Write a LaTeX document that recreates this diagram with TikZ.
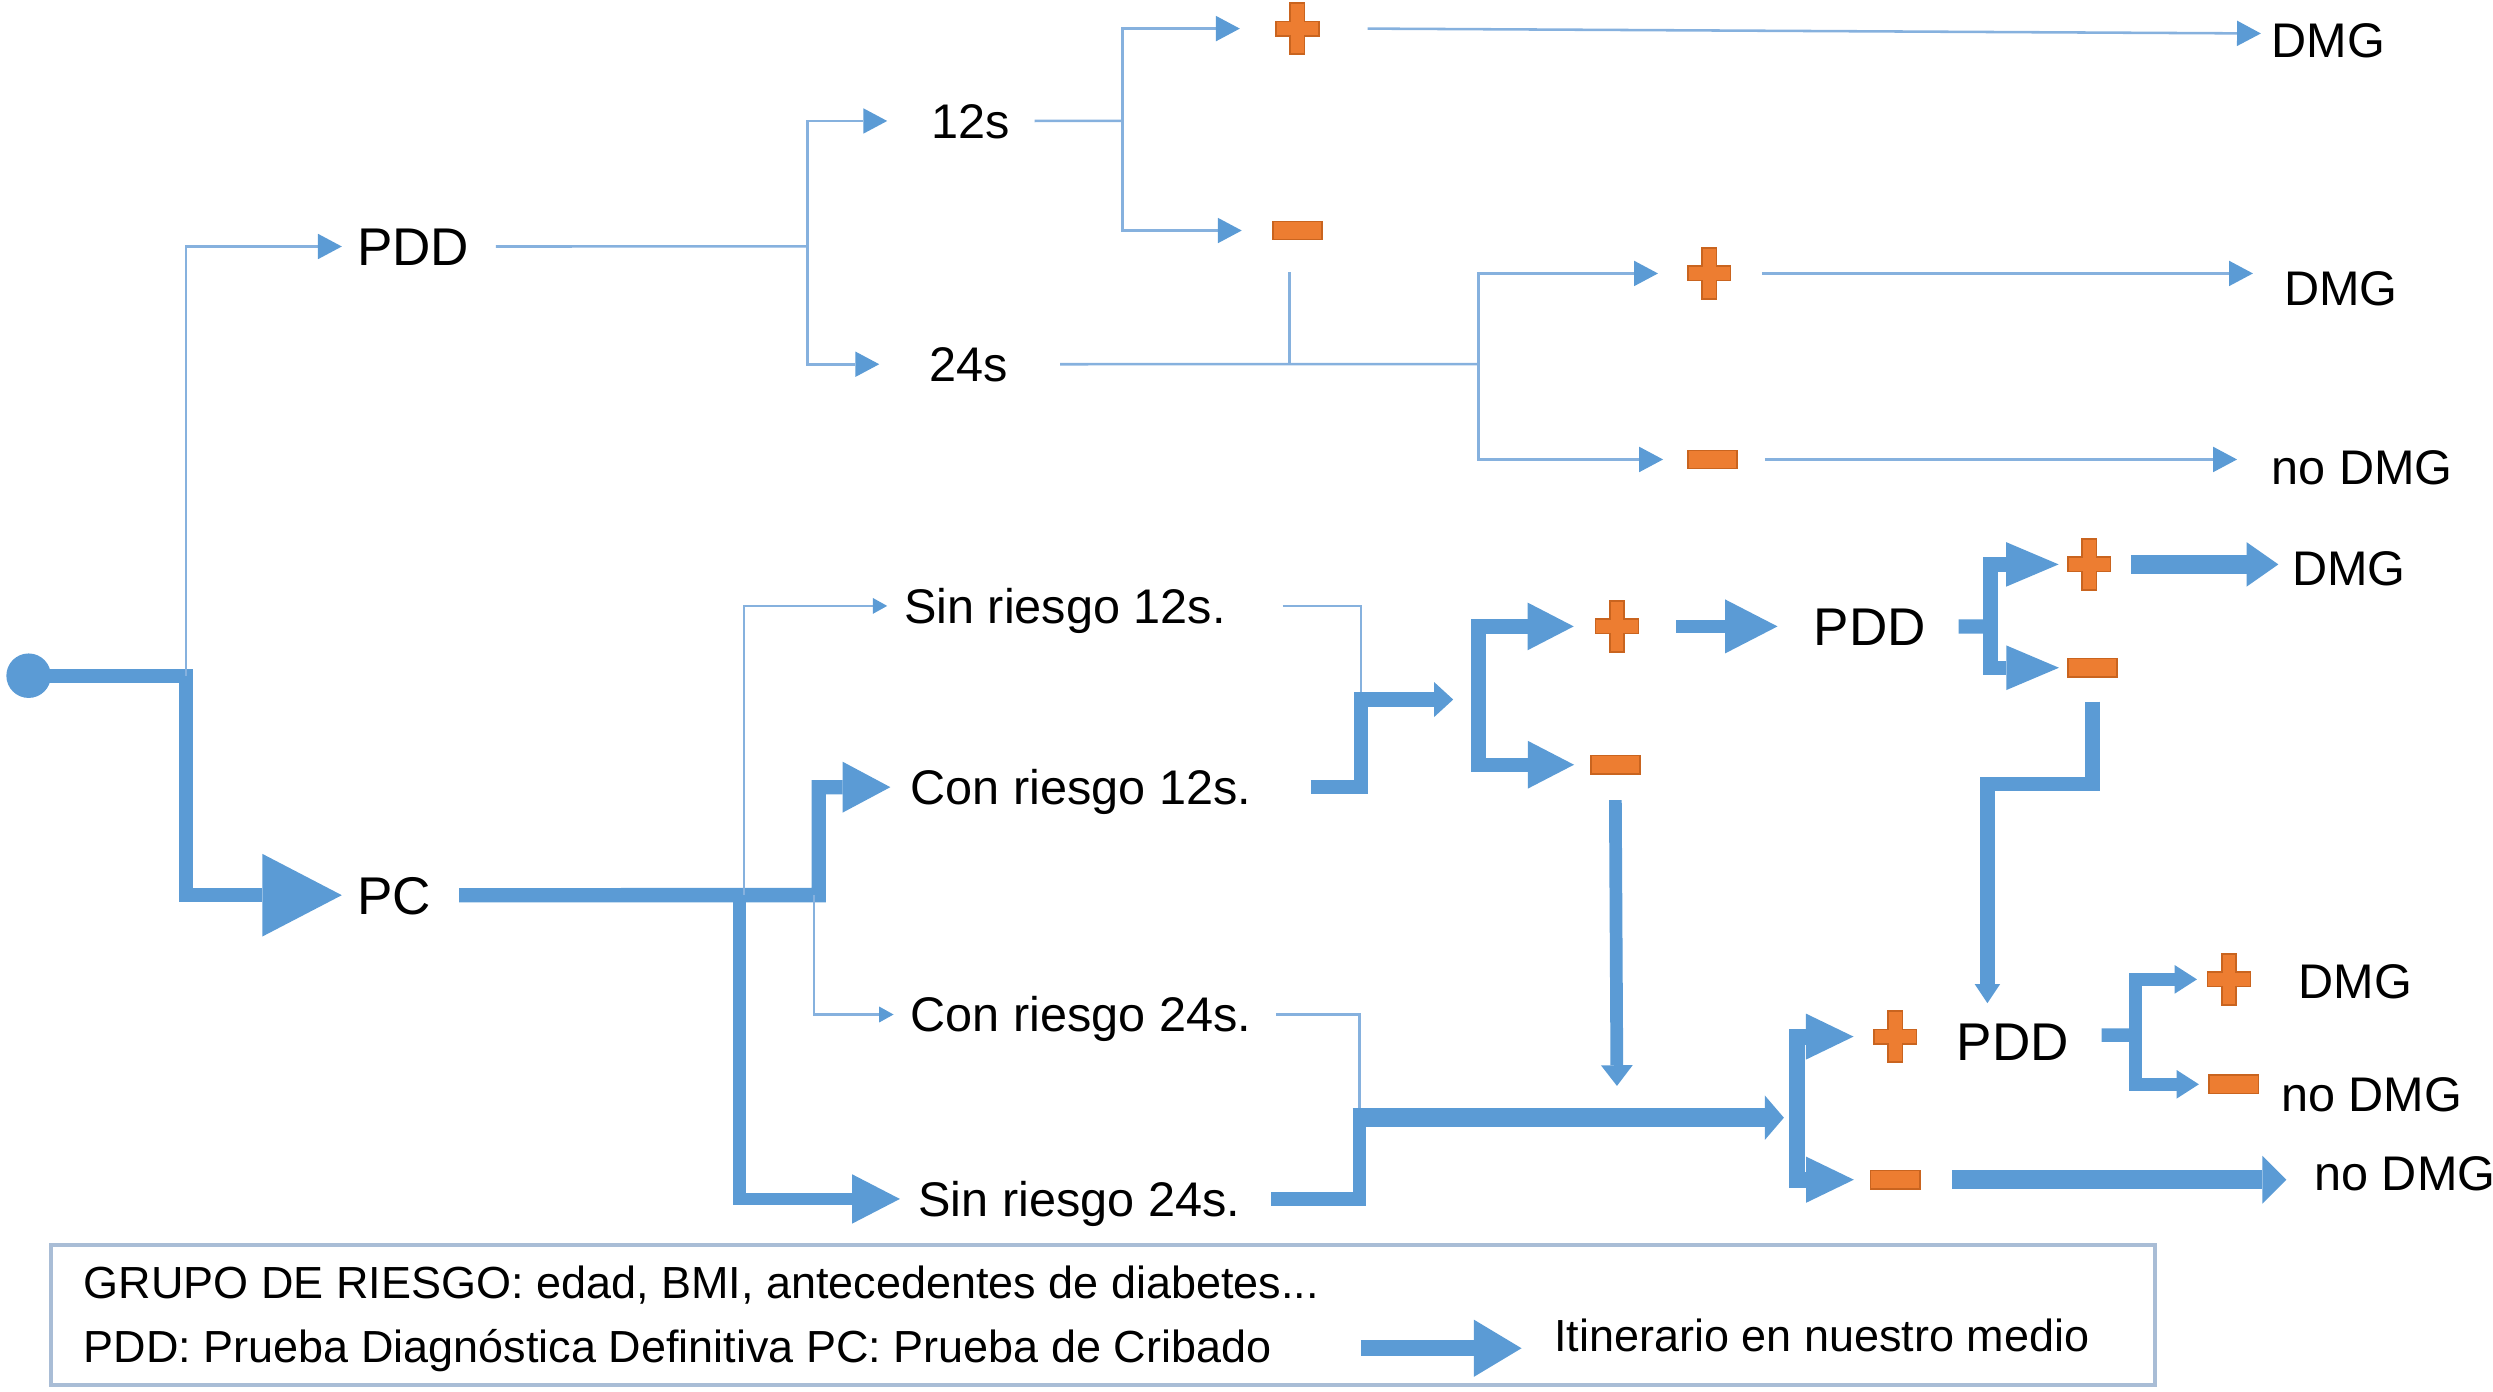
\documentclass[tikz,border=0pt]{standalone}
\usepackage{fontspec}
\setmainfont{Liberation Sans}
\usetikzlibrary{arrows.meta}
\definecolor{bl}{HTML}{5B9BD5}
\definecolor{lb}{HTML}{86B1DE}
\definecolor{og}{HTML}{ED7D31}
\definecolor{dog}{HTML}{C9641F}
\definecolor{bx}{HTML}{A9BDD6}
\begin{document}
\begin{tikzpicture}[x=0.1mm,y=-0.1mm,
  txt/.style={anchor=base west,inner sep=0pt,text height=6.2pt,text depth=0pt,font=\fontsize{8.7pt}{10pt}\selectfont},
  bigt/.style={anchor=base west,inner sep=0pt,text height=6.8pt,text depth=0pt,font=\fontsize{9.5pt}{11pt}\selectfont},
  legt/.style={anchor=base west,inner sep=0pt,text height=5.8pt,text depth=0pt,font=\fontsize{8.05pt}{10pt}\selectfont},
  sgnp/.style={minimum width=2.7mm,minimum height=3.2mm,inner sep=0pt},
  sgnm/.style={draw=dog,fill=og,line width=0.1mm,minimum width=3.1mm,minimum height=1.15mm,inner sep=0pt},
  dotst/.style={circle,fill=bl,minimum size=2.8mm,inner sep=0pt},
  thn/.style={draw=lb,line width=0.16mm},
  thna/.style={thn,-{Triangle[length=1.5mm,width=1.6mm,color=bl,line width=0pt]},shorten >=#1},
  tinya/.style={thn,-{Triangle[length=0.9mm,width=1mm,color=bl,line width=0pt]},shorten >=#1},
  tk/.style={draw=bl,line width=#1},
  tka/.style n args={4}{draw=bl,line width=#1,-{Triangle[length=#2,width=#3,line width=0pt]},shorten >=#4},
]
\useasboundingbox (0,0) rectangle (1568,875);

% ---------- nodes ----------
\node[dotst] (start) at (18,425) {};
\node[bigt] (pddA) at (224,167) {PDD};
\node[bigt] (pc) at (224,575) {PC};
\node[txt] (s12) at (585,87) {12s};
\node[txt] (s24) at (584,240) {24s};
\node[txt] (dmg1) at (1428,36) {DMG};
\node[txt] (dmg2) at (1436,192) {DMG};
\node[txt] (nodmg1) at (1428,305) {no DMG};
\node[txt] (sr12) at (568,392) {Sin riesgo 12s.};
\node[txt] (cr12) at (572,506) {Con riesgo 12s.};
\node[txt] (cr24) at (572,649) {Con riesgo 24s.};
\node[txt] (sr24) at (577,765) {Sin riesgo 24s.};
\node[bigt] (pddB) at (1140,406) {PDD};
\node[txt] (dmg3) at (1441,368) {DMG};
\node[bigt] (pddC) at (1230,667) {PDD};
\node[txt] (dmg4) at (1445,628) {DMG};
\node[txt] (nodmg2) at (1434,699) {no DMG};
\node[txt] (nodmg3) at (1455,749) {no DMG};

\node[sgnp] (p1) at (816,18) {};
\node[sgnm] (m1) at (816,145) {};
\node[sgnp] (p2) at (1075,172) {};
\node[sgnm] (m2) at (1077,289) {};
\node[sgnp] (p3) at (1017,394) {};
\node[sgnm] (m3) at (1016,481) {};
\node[sgnp] (p4) at (1314,355) {};
\node[sgnm] (m4) at (1316,420) {};
\node[sgnp] (p5) at (1192,652) {};
\node[sgnm] (m5) at (1192,742) {};
\node[sgnp] (p6) at (1402,616) {};
\node[sgnm] (m6) at (1405,682) {};
\foreach \n in {p1,p2,p3,p4,p5,p6}
  \filldraw[fill=og,draw=dog,line width=0.1mm,shift={(\n)}]
    (-4.5,-16) -- (4.5,-16) -- (4.5,-4.5) -- (13.5,-4.5) -- (13.5,4.5) -- (4.5,4.5)
    -- (4.5,16) -- (-4.5,16) -- (-4.5,4.5) -- (-13.5,4.5) -- (-13.5,-4.5) -- (-4.5,-4.5) -- cycle;

% ---------- junctions ----------
\coordinate (j0) at (117,425);
\coordinate (ja) at (508,155);
\coordinate (jb) at (706,76);
\coordinate (jc) at (930,229);
\coordinate (jd) at (515,563);
\coordinate (jf) at (465,560);
\coordinate (jg) at (468,563);
\coordinate (jh) at (512,563);
\coordinate (ji) at (856,440);
\coordinate (jk) at (914,440);
\coordinate (jl) at (930,437);
\coordinate (jm) at (1252,394);
\coordinate (jn) at (1250,493);
\coordinate (jo) at (1250,631);
\coordinate (jp) at (1017,683);
\coordinate (jq) at (855,703);
\coordinate (jr) at (1122,703);
\coordinate (js) at (1130,703);
\coordinate (jt) at (1343,651);

% ---------- upper (thin) tree ----------
\draw[tka={0.9mm}{5mm}{5.2mm}{0.9mm}] (start.center) -- (j0) |- (pc.west);
\draw[thna=0.9mm] (j0) |- (pddA.west);
\draw[thn] ([xshift=1.6mm]pddA.east) -- (ja);
\draw[thna=2.7mm] (ja) |- (s12.west);
\draw[thna=3.1mm] (ja) |- (s24.west);
\draw[thn] ([xshift=1.5mm]s12.east) -- (jb);
\draw[thna=2.2mm] (jb) |- (p1.west);
\draw[thna=1.9mm] (jb) |- (m1.west);
\draw[thna=0.6mm] ([xshift=3mm]p1.east) -- ([yshift=0.4mm]dmg1.west);
\draw[thn] ([xshift=3.2mm]s24.east) -- (jc);
\draw[thn] ([xshift=-0.5mm,yshift=-2mm]m1.south) -- ([xshift=-0.5mm]m1.south |- jc);
\draw[thna=1.8mm] (jc) |- (p2.west);
\draw[thna=1.5mm] (jc) |- (m2.west);
\draw[thna=1.9mm] ([xshift=1.9mm]p2.east) -- (p2.east -| dmg2.west);
\draw[thna=2.1mm] ([xshift=1.7mm]m2.east) -- (m2.east -| nodmg1.west);

% ---------- lower (thick) tree ----------
\draw[tka={0.9mm}{3mm}{3.2mm}{1.2mm}] ([xshift=1.7mm]pc.east) -- (jd) |- (cr12.west);
\draw[tka={0.8mm}{3mm}{3.1mm}{1.1mm}] (jf) |- (sr24.west);
\draw[tinya=1mm] (jg) |- (sr12.west);
\draw[tinya=1mm] (jh) |- (cr24.west);

\draw[thn] ([xshift=3.5mm]sr12.east) -| (ji);
\draw[tka={0.9mm}{1.2mm}{2.2mm}{0pt}] ([xshift=3.7mm]cr12.east) -| (ji) -- (jk);
\draw[tka={0.9mm}{2.9mm}{3mm}{1.3mm}] (jl) |- (p3.west);
\draw[tka={0.9mm}{2.9mm}{3mm}{1.0mm}] (jl) |- (m3.west);
\draw[tka={0.85mm}{3.3mm}{3.4mm}{2.2mm}] ([xshift=2.3mm]p3.east) -- (p3.east -| pddB.west);

\draw[tk=0.9mm] ([xshift=2mm]pddB.east) -- (jm);
\draw[tka={0.9mm}{3.3mm}{2.8mm}{0.5mm}] (jm) |- (p4.west);
\draw[tka={0.9mm}{3.3mm}{2.8mm}{0.5mm}] (jm) |- (m4.west);
\draw[tka={1.2mm}{2mm}{2.8mm}{0.8mm}] ([xshift=1.2mm]p4.east) -- (p4.east -| dmg3.west);
\draw[tka={0.9mm}{1.2mm}{1.6mm}{0pt}] ([yshift=-1.5mm]m4.south) |- (jn) -- (jo);

\draw[tka={0.8mm}{1.3mm}{2mm}{0pt}] ([yshift=-1.6mm]m3.south) -- (jp);

\draw[thn] ([xshift=1.5mm]cr24.east) -| (jq);
\draw[tk=0.85mm] ([xshift=1.9mm]sr24.east) -| ([yshift=0.6mm]jq);
\draw[tka={1.2mm}{1.2mm}{2.8mm}{0pt}] ([xshift=-0.42mm]jq) -- (jr);
\draw[tka={1mm}{3mm}{2.9mm}{1.2mm}] (js) |- (p5.west);
\draw[tka={1mm}{3mm}{2.9mm}{1.0mm}] (js) |- (m5.west);

\draw[tk=0.85mm] ([xshift=2mm,yshift=0.4mm]pddC.east) -- (jt);
\draw[tka={0.85mm}{1.4mm}{1.8mm}{0.6mm}] (jt) |- (p6.west);
\draw[tka={0.85mm}{1.4mm}{1.8mm}{0.6mm}] (jt) |- (m6.west);
\draw[tka={1.2mm}{1.5mm}{3mm}{1.7mm}] ([xshift=2mm]m5.east) -- (m5.east -| nodmg3.west);

% ---------- legend ----------
\node[draw=bx,line width=0.25mm,anchor=north west,minimum width=132.3mm,minimum height=8.8mm,inner sep=0pt] (legbox) at (31,782) {};
\node[legt] (leg1) at (52,817) {GRUPO DE RIESGO: edad, BMI, antecedentes de diabetes...};
\node[legt] (leg2) at (52,857) {PDD: Prueba Diagnóstica Definitiva PC: Prueba de Cribado};
\node[legt] (itin) at (977,850) {Itinerario en nuestro medio};
\coordinate (la) at (856,848);
\coordinate (lz) at (957,848);
\draw[tka={1mm}{3mm}{3.6mm}{0pt}] (la) -- (lz);
\end{tikzpicture}
\end{document}
